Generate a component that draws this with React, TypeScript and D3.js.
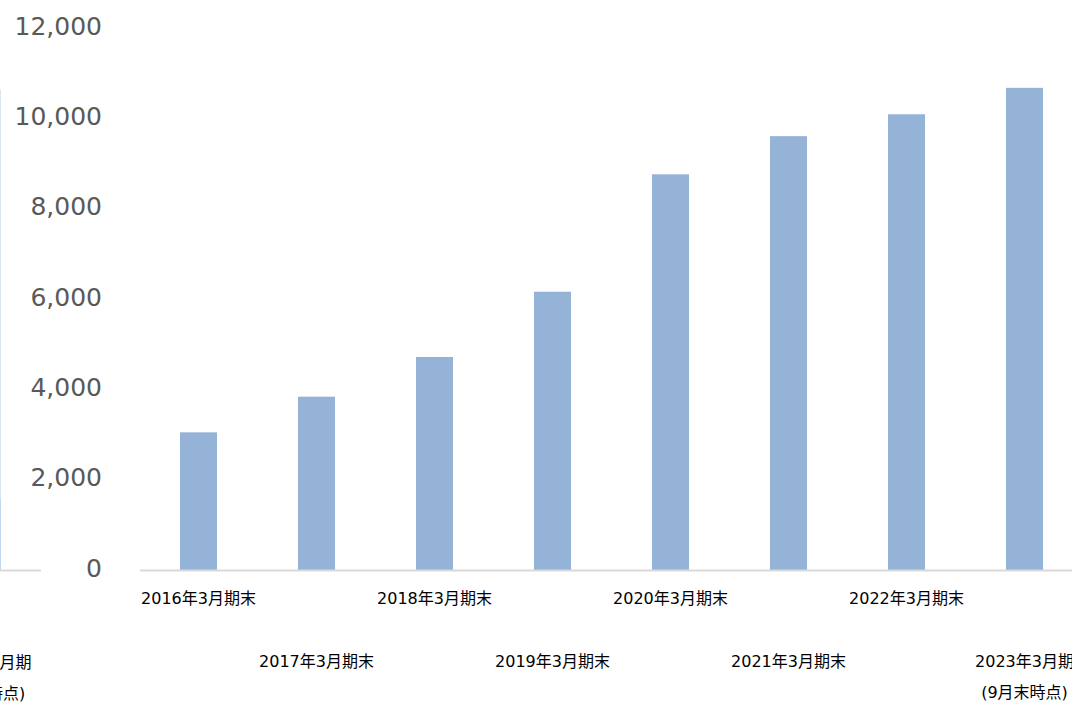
import * as d3 from "d3";
import React from "react";

const WIDTH = 1072;
const HEIGHT = 703;

// 期末の件数
const periods = [
  "2016年3月期末",
  "2017年3月期末",
  "2018年3月期末",
  "2019年3月期末",
  "2020年3月期末",
  "2021年3月期末",
  "2022年3月期末",
  "2023年3月期",
];
const values = [3060, 3850, 4730, 6175, 8775, 9620, 10105, 10690];
const yTicks = [0, 2000, 4000, 6000, 8000, 10000, 12000];

// the neighbouring chart on the left, cut off by the frame
const prevLabel = "2023年3月期";
const prevSegments = [1600, 9050];
const prevColors = ["#8db3e2", "#b7cfea"];

const NOTE = "(9月末時点)";
const BAR_COLOR = "#95b3d7";
const AXIS_COLOR = "#d9d9d9";
const LABEL_FONT = "Verdana, 'DejaVu Sans', 'Noto Sans CJK JP', sans-serif";

export default function App() {
  const x = d3
    .scaleBand<string>()
    .domain(periods)
    .range([139.5, 1083.5])
    .paddingInner(0.686)
    .paddingOuter(0.343);

  const y = d3.scaleLinear().domain([0, 12000]).range([570.5, 28.7]);

  const bw = x.bandwidth();
  const step = x.step();
  // the left panel's last bar sits one "panel gap" before this chart
  const prevCenter = -18;

  let acc = 0;
  const prevBars = prevSegments.map((v, i) => {
    const y0 = y(acc);
    acc += v;
    const y1 = y(acc);
    return (
      <rect
        key={i}
        x={prevCenter - bw / 2}
        y={y1}
        width={bw}
        height={y0 - y1}
        fill={prevColors[i]}
      />
    );
  });

  return (
    <svg
      width={WIDTH}
      height={HEIGHT}
      style={{ position: "absolute", left: 0, top: 0, background: "#fff" }}
    >
      {/* left neighbour (clipped) */}
      <g>
        {prevBars}
        <line x1={0} x2={41} y1={570.5} y2={570.5} stroke={AXIS_COLOR} strokeWidth={2} />
        <text x={prevCenter} y={668} fontSize={16} fontFamily={LABEL_FONT} textAnchor="middle" fill="#000">
          {prevLabel}
        </text>
        <text x={prevCenter} y={699} fontSize={16} fontFamily={LABEL_FONT} textAnchor="middle" fill="#000">
          {NOTE}
        </text>
      </g>

      {/* y axis labels */}
      {yTicks.map((t) => (
        <text
          key={t}
          x={102}
          y={y(t) - 3}
          dy="0.36em"
          textAnchor="end"
          fontSize={25}
          fontFamily="Verdana, 'DejaVu Sans', sans-serif"
          fill="#595959"
        >
          {d3.format(",")(t)}
        </text>
      ))}

      {/* bars */}
      {periods.map((p, i) => (
        <rect
          key={p}
          x={x(p)}
          y={y(values[i])}
          width={bw}
          height={y(0) - y(values[i])}
          fill={BAR_COLOR}
        />
      ))}

      {/* x axis */}
      <line x1={140} x2={WIDTH} y1={570.5} y2={570.5} stroke={AXIS_COLOR} strokeWidth={2} />

      {periods.map((p, i) => {
        const cx = x(p)! + bw / 2;
        const ty = i % 2 === 0 ? 604 : 667;
        return (
          <g key={p}>
            <text x={cx} y={ty} fontSize={16} fontFamily={LABEL_FONT} textAnchor="middle" fill="#000">
              {p}
            </text>
            {i === periods.length - 1 && (
              <text x={cx} y={ty + 31} fontSize={16} fontFamily={LABEL_FONT} textAnchor="middle" fill="#000">
                {NOTE}
              </text>
            )}
          </g>
        );
      })}
    </svg>
  );
}
